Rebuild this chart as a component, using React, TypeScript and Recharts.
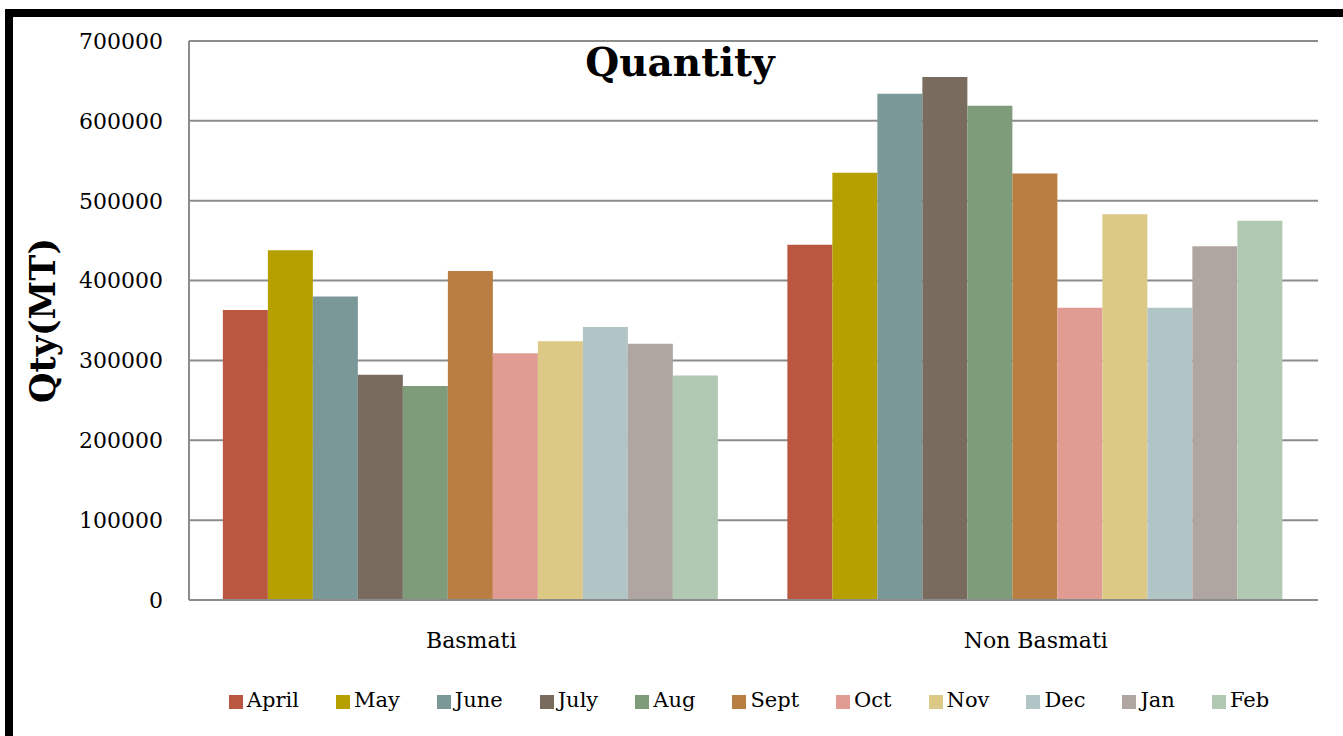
import { BarChart, Bar, XAxis, YAxis, CartesianGrid, Legend } from 'recharts';

const categories = ['Basmati', 'Non Basmati'];
const months = ['April', 'May', 'June', 'July', 'Aug', 'Sept', 'Oct', 'Nov', 'Dec', 'Jan', 'Feb'];
const basmati = [363000, 438000, 380000, 282000, 268000, 412000, 309000, 324000, 342000, 321000, 281000];
const nonBasmati = [445000, 535000, 634000, 655000, 619000, 534000, 366000, 483000, 366000, 443000, 475000];
const colors = ['#BA5741', '#B5A000', '#7B9899', '#7A6B5F', '#7E9C7A', '#B97E41', '#E09B93', '#DBC985', '#B1C4C6', '#AFA6A1', '#B1C8B2'];
const yTicks = [0, 100000, 200000, 300000, 400000, 500000, 600000, 700000];

const data = categories.map((name, ci) => {
  const row: Record<string, string | number> = { name };
  const src = ci === 0 ? basmati : nonBasmati;
  months.forEach((m, i) => {
    row[m] = src[i];
  });
  return row;
});

const font = '"DejaVu Serif", serif';

export default function App() {
  return (
    <div
      style={{
        position: 'absolute',
        left: 5,
        top: 9,
        width: 1338,
        height: 727,
        borderTop: '8px solid #000',
        borderLeft: '8px solid #000',
        background: '#fff',
        fontFamily: font,
      }}
    >
      <BarChart
        width={1330}
        height={719}
        data={data}
        margin={{ top: 24, right: 25, left: 0, bottom: 24 }}
        barCategoryGap="6%"
        barGap={0}
      >
        <CartesianGrid vertical={false} stroke="#8c8c8c" strokeWidth={2} />
        <XAxis
          dataKey="name"
          height={88}
          tickLine={false}
          tickMargin={26}
          axisLine={{ stroke: '#8c8c8c', strokeWidth: 2 }}
          tick={{ fill: '#000', fontSize: 22, fontFamily: font }}
        />
        <YAxis
          width={176}
          domain={[0, 700000]}
          ticks={yTicks}
          interval={0}
          tickLine={false}
          tickMargin={20}
          axisLine={{ stroke: '#8c8c8c', strokeWidth: 2 }}
          tick={{ fill: '#000', fontSize: 22, fontFamily: font }}
        />
        <Legend
          verticalAlign="bottom"
          iconType="square"
          iconSize={14}
          itemSorter={(item: { value: string }) => months.indexOf(item.value)}
          wrapperStyle={{ left: 190, width: 1129, fontFamily: font, fontSize: 21 }}
          formatter={(value: string) => (
            <span style={{ color: '#000', marginRight: 27 }}>{value}</span>
          )}
        />
        {months.map((m, i) => (
          <Bar key={m} dataKey={m} fill={colors[i]} isAnimationActive={false} />
        ))}
      </BarChart>
      <div
        style={{
          position: 'absolute',
          left: 467,
          width: 400,
          top: 22,
          textAlign: 'center',
          fontWeight: 'bold',
          fontSize: 39,
          color: '#000',
        }}
      >
        Quantity
      </div>
      <div
        style={{
          position: 'absolute',
          left: 29 - 150,
          top: 305 - 22,
          width: 300,
          textAlign: 'center',
          transform: 'rotate(-90deg)',
          fontWeight: 'bold',
          fontSize: 35,
          color: '#000',
        }}
      >
        Qty(MT)
      </div>
    </div>
  );
}
